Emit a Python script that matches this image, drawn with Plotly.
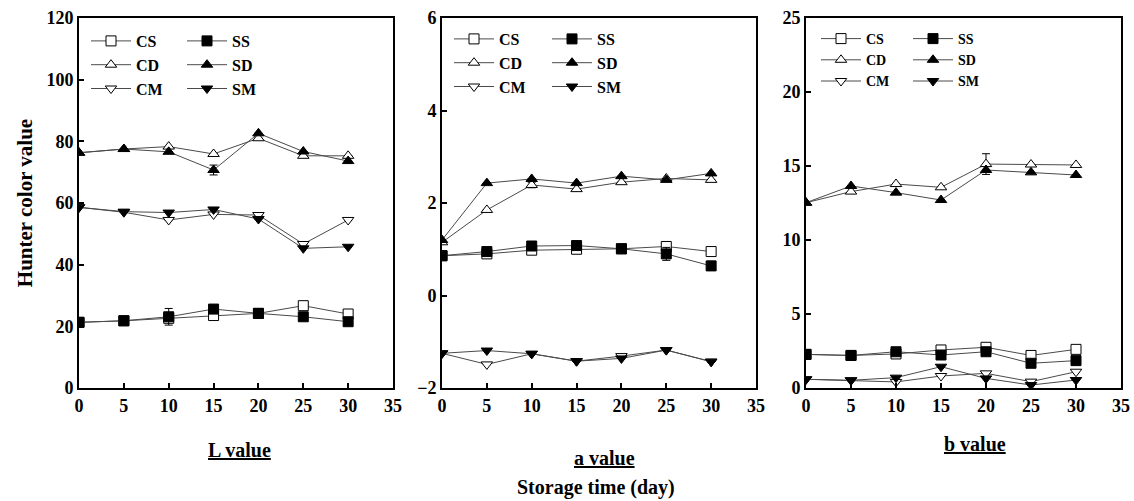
import plotly.graph_objects as go

# ---------------- data ----------------
days = [0, 5, 10, 15, 20, 25, 30]
series_names = ["CS", "CD", "CM", "SS", "SD", "SM"]
panel_titles = ["L value", "a value", "b value"]

# L value
L_CS = [21.3, 21.8, 22.6, 23.5, 24.2, 26.7, 24.0]
L_CD = [76.3, 77.5, 78.3, 75.9, 81.0, 75.3, 75.3]
L_CM = [58.6, 57.0, 54.5, 56.3, 56.1, 46.7, 54.5]
L_SS = [21.3, 21.8, 23.1, 25.6, 24.2, 23.1, 21.5]
L_SD = [76.3, 77.5, 76.6, 70.7, 82.6, 76.7, 73.6]
L_SM = [58.6, 57.2, 56.9, 57.9, 54.8, 45.3, 45.8]
L_SS_err = [0, 0, 2.7, 0.5, 0, 0, 0]
L_SD_err = [0, 0, 0, 1.6, 0, 0, 0]

# a value
a_CS = [0.86, 0.90, 0.98, 1.00, 1.01, 1.06, 0.95]
a_CD = [1.15, 1.85, 2.39, 2.30, 2.45, 2.53, 2.50]
a_CM = [-1.25, -1.49, -1.26, -1.42, -1.31, -1.18, -1.43]
a_SS = [0.86, 0.95, 1.07, 1.08, 1.01, 0.90, 0.64]
a_SD = [1.20, 2.43, 2.52, 2.43, 2.58, 2.50, 2.64]
a_SM = [-1.25, -1.19, -1.26, -1.42, -1.36, -1.18, -1.43]
a_SS_err = [0, 0, 0, 0, 0, 0.14, 0.1]
a_CD_err = [0, 0, 0.06, 0, 0, 0, 0]

# b value
b_CS = [2.27, 2.20, 2.30, 2.57, 2.75, 2.20, 2.61]
b_CD = [12.52, 13.27, 13.78, 13.56, 15.13, 15.10, 15.07]
b_CM = [0.59, 0.52, 0.41, 0.81, 0.99, 0.43, 1.10]
b_SS = [2.27, 2.20, 2.45, 2.23, 2.45, 1.67, 1.85]
b_SD = [12.52, 13.65, 13.20, 12.70, 14.73, 14.57, 14.39]
b_SM = [0.59, 0.52, 0.70, 1.44, 0.65, 0.20, 0.54]
b_CD_err = [0, 0, 0, 0, 0.7, 0, 0]

zeros = [0] * len(days)
panels = [
    {"CS": (L_CS, zeros), "CD": (L_CD, zeros), "CM": (L_CM, zeros),
     "SS": (L_SS, L_SS_err), "SD": (L_SD, L_SD_err), "SM": (L_SM, zeros)},
    {"CS": (a_CS, zeros), "CD": (a_CD, a_CD_err), "CM": (a_CM, zeros),
     "SS": (a_SS, a_SS_err), "SD": (a_SD, zeros), "SM": (a_SM, zeros)},
    {"CS": (b_CS, zeros), "CD": (b_CD, b_CD_err), "CM": (b_CM, zeros),
     "SS": (b_SS, zeros), "SD": (b_SD, zeros), "SM": (b_SM, zeros)},
]
y_ranges = [(0, 120), (-2, 6), (0, 25)]
y_dticks = [20, 2, 5]

# ---------------- style ----------------
FONT = "Liberation Serif"
symbols = {"CS": "square", "CD": "triangle-up", "CM": "triangle-down",
           "SS": "square", "SD": "triangle-up", "SM": "triangle-down"}
fills = {"CS": "white", "CD": "white", "CM": "white",
         "SS": "black", "SD": "black", "SM": "black"}

L_MARGIN, T_MARGIN, PW, PH = 79, 18, 1042, 370

def px_x(v):
    return (v - L_MARGIN) / PW

def px_y(v):
    return 1 - (v - T_MARGIN) / PH

fig = go.Figure()

domains = [(px_x(79), px_x(393)), (px_x(442), px_x(756)), (px_x(806), px_x(1121))]
# legend top-left corners (pixels)
legend_px = [(86, 24), (182, 24), (449, 22), (547, 22), (816, 23), (908, 23)]
legend_sizes = [16, 16, 16, 16, 14, 14]

for p, data in enumerate(panels):
    xa = "x" if p == 0 else f"x{p+1}"
    ya = "y" if p == 0 else f"y{p+1}"
    for name in series_names:
        vals, err = data[name]
        leg_idx = 2 * p + (0 if name.startswith("C") else 1)
        leg = "legend" if leg_idx == 0 else f"legend{leg_idx+1}"
        fig.add_trace(go.Scatter(
            x=days, y=vals, name=name, mode="lines+markers",
            xaxis=xa, yaxis=ya, legend=leg,
            line=dict(color="#4a4a4a", width=1),
            marker=dict(symbol=symbols[name], size=10, color=fills[name],
                        line=dict(color="black", width=1)),
            error_y=dict(type="data", array=err, visible=True,
                         color="black", thickness=1, width=4),
        ))

layout = dict(
    width=1134, height=501,
    margin=dict(l=L_MARGIN, r=13, t=T_MARGIN, b=113),
    plot_bgcolor="white", paper_bgcolor="white",
    font=dict(family=FONT, size=17, color="black"),
    showlegend=True,
)

for p in range(3):
    xk = "xaxis" if p == 0 else f"xaxis{p+1}"
    yk = "yaxis" if p == 0 else f"yaxis{p+1}"
    xa_anchor = "y" if p == 0 else f"y{p+1}"
    ya_anchor = "x" if p == 0 else f"x{p+1}"
    layout[xk] = dict(
        domain=list(domains[p]), anchor=xa_anchor, range=[0, 35], dtick=5, tick0=0,
        showgrid=False, zeroline=False, showline=True, linecolor="black",
        linewidth=2, mirror=True, ticks="inside", ticklen=5, tickwidth=2,
        tickcolor="black", automargin=False,
        tickfont=dict(family=FONT, size=18, weight="bold", color="black"),
    )
    layout[yk] = dict(
        domain=[0, 1], anchor=ya_anchor, range=list(y_ranges[p]), dtick=y_dticks[p],
        showgrid=False, zeroline=False, showline=True, linecolor="black",
        linewidth=2, mirror=True, ticks="inside", ticklen=5, tickwidth=2,
        tickcolor="black", automargin=False,
        tickfont=dict(family=FONT, size=18, weight="bold", color="black"),
    )

layout["yaxis"]["title"] = dict(text="Hunter color value",
                                font=dict(family=FONT, size=21, weight="bold"),
                                standoff=8)

for i, (lx, ly) in enumerate(legend_px):
    key = "legend" if i == 0 else f"legend{i+1}"
    layout[key] = dict(
        x=px_x(lx), y=px_y(ly), xanchor="left", yanchor="top",
        bgcolor="rgba(0,0,0,0)", borderwidth=0,
        font=dict(family=FONT, size=legend_sizes[i], weight="bold", color="black"),
        itemwidth=40, tracegroupgap=0,
    )

fig.update_layout(**layout)

# panel labels and shared x title
label_pos = [(239, 450), (604, 458), (975, 444)]
for (px, py), t in zip(label_pos, panel_titles):
    fig.add_annotation(
        x=px_x(px), y=px_y(py), xref="paper", yref="paper",
        text=f"<u>{t}</u>", showarrow=False, xanchor="center", yanchor="middle",
        font=dict(family=FONT, size=20, weight="bold", color="black"),
    )
fig.add_annotation(
    x=px_x(596), y=px_y(487), xref="paper", yref="paper",
    text="Storage time (day)", showarrow=False, xanchor="center", yanchor="middle",
    font=dict(family=FONT, size=20, weight="bold", color="black"),
)

fig.write_html("out.html", config={"displayModeBar": False},
               post_script="document.body.style.margin='0px';")
